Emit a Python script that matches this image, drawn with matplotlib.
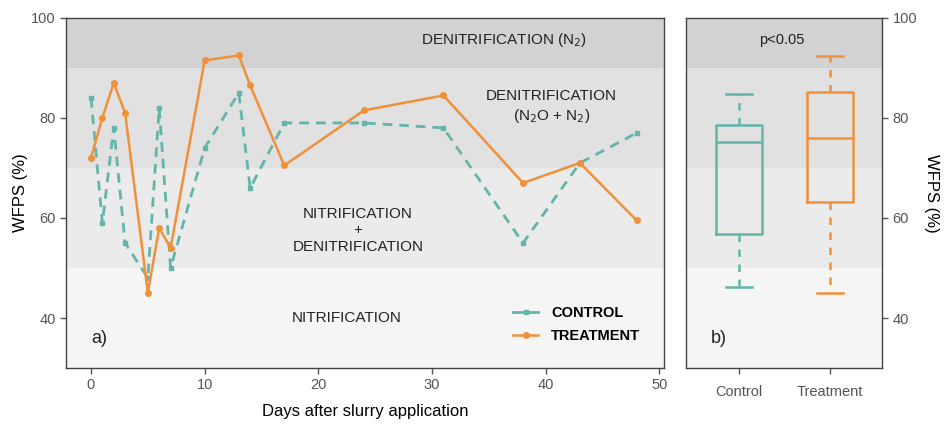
import numpy as np
import matplotlib.pyplot as plt

plt.rcParams['font.family'] = ['Liberation Sans', 'DejaVu Sans']

# sampling days and WFPS (%) for both plots
days = [0, 1, 2, 3, 5, 6, 7, 10, 13, 14, 17, 24, 31, 38, 43, 48]
control = [84, 59, 78, 55, 48, 82, 50, 74, 85, 66, 79, 79, 78, 55, 71, 77]
treatment = [72, 80, 87, 81, 45, 58, 54, 91.5, 92.5, 86.5, 70.5, 81.5, 84.5, 67, 71, 59.5]

# summary stats for the boxplots: whisker low, q1, median, q3, whisker high
group_names = ['Control', 'Treatment']
box_low = [46.2, 45.0]
box_q1 = [56.8, 63.2]
box_med = [75.2, 76.0]
box_q3 = [78.6, 85.2]
box_high = [84.8, 92.4]

# WFPS ranges for the process zones
zone_edges = [30, 50, 70, 90, 100]
zone_colors = ['#f5f5f5', '#ebebeb', '#e1e1e1', '#d2d2d2']

TEAL = '#63b5a9'
ORANGE = '#f0913a'
SPINE = '#444444'
TICKC = '#555555'

fig = plt.figure(figsize=(9.44, 4.26), dpi=100)
ax = fig.add_axes([0.0699, 0.136, 0.6335, 0.822])
bx = fig.add_axes([0.7267, 0.136, 0.2076, 0.822])


def shade_zones(a):
    for lo, hi, c in zip(zone_edges[:-1], zone_edges[1:], zone_colors):
        a.axhspan(lo, hi, color=c, lw=0, zorder=0)


def style_axes(a):
    for s in a.spines.values():
        s.set_color(SPINE)
        s.set_linewidth(1.0)
    a.tick_params(colors=TICKC, labelcolor=TICKC, labelsize=10.5, length=4, width=1)


# a) time series
shade_zones(ax)
ax.plot(days, control, color=TEAL, ls=(0, (3.5, 2.5)), lw=2, marker='s', ms=3.5,
        label='CONTROL', zorder=3)
ax.plot(days, treatment, color=ORANGE, ls='-', lw=1.8, marker='o', ms=4,
        label='TREATMENT', zorder=4)
ax.set_xlim(-2.2, 50.4)
ax.set_ylim(30, 100)
ax.set_xticks([0, 10, 20, 30, 40, 50])
ax.set_yticks([40, 60, 80, 100])
ax.set_xlabel('Days after slurry application', fontsize=12, labelpad=8)
ax.set_ylabel('WFPS (%)', fontsize=12, labelpad=2)
style_axes(ax)

txt = dict(ha='center', va='center', fontsize=11, color='#222222')
ax.text(36.3, 95.6, 'DENITRIFICATION (N$_2$)', **txt)
ax.text(40.5, 82.2, 'DENITRIFICATION\n(N$_2$O + N$_2$)', linespacing=1.3, **txt)
ax.text(23.5, 57.5, 'NITRIFICATION\n+\nDENITRIFICATION', linespacing=1.25, **txt)
ax.text(22.5, 40, 'NITRIFICATION', **txt)
ax.text(0.7, 36, 'a)', ha='center', va='center', fontsize=13, color='#222222')

leg = ax.legend(loc='lower right', bbox_to_anchor=(0.982, 0.035), frameon=False,
                handlelength=1.7, handletextpad=0.9, labelspacing=0.6,
                prop={'weight': 'bold', 'size': 10.5})
for h in leg.legend_handles:
    h.set_linestyle('-')

# b) boxplots
shade_zones(bx)
stats = []
for name, lo, q1, med, q3, hi in zip(group_names, box_low, box_q1, box_med, box_q3, box_high):
    stats.append(dict(label=name, whislo=lo, q1=q1, med=med, q3=q3, whishi=hi, fliers=[]))
parts = bx.bxp(stats, positions=[1, 2], widths=0.5, showfliers=False,
               patch_artist=False, manage_ticks=False)
for i, c in enumerate([TEAL, ORANGE]):
    parts['boxes'][i].set(color=c, lw=1.8)
    parts['medians'][i].set(color=c, lw=1.8)
    for w in parts['whiskers'][2 * i:2 * i + 2]:
        w.set(color=c, lw=1.8, ls=(0, (3, 3)))
    for cp in parts['caps'][2 * i:2 * i + 2]:
        cp.set(color=c, lw=1.8)
        x0, x1 = cp.get_xdata()
        mid = (x0 + x1) / 2
        cp.set_xdata([mid - 0.14, mid + 0.14])

bx.set_xlim(0.418, 2.57)
bx.set_ylim(30, 100)
bx.set_xticks([1, 2])
bx.set_xticklabels(group_names)
bx.set_yticks([40, 60, 80, 100])
bx.yaxis.tick_right()
bx.yaxis.set_label_position('right')
bx.set_ylabel('WFPS (%)', fontsize=12, rotation=270, labelpad=16)
style_axes(bx)
bx.tick_params(axis='x', labelsize=10.5, pad=8)
bx.text(1.47, 95.6, 'p<0.05', ha='center', va='center', fontsize=10.5, color='#222222')
bx.text(0.78, 36, 'b)', ha='center', va='center', fontsize=13, color='#222222')

fig.savefig('out.png', dpi=100)
